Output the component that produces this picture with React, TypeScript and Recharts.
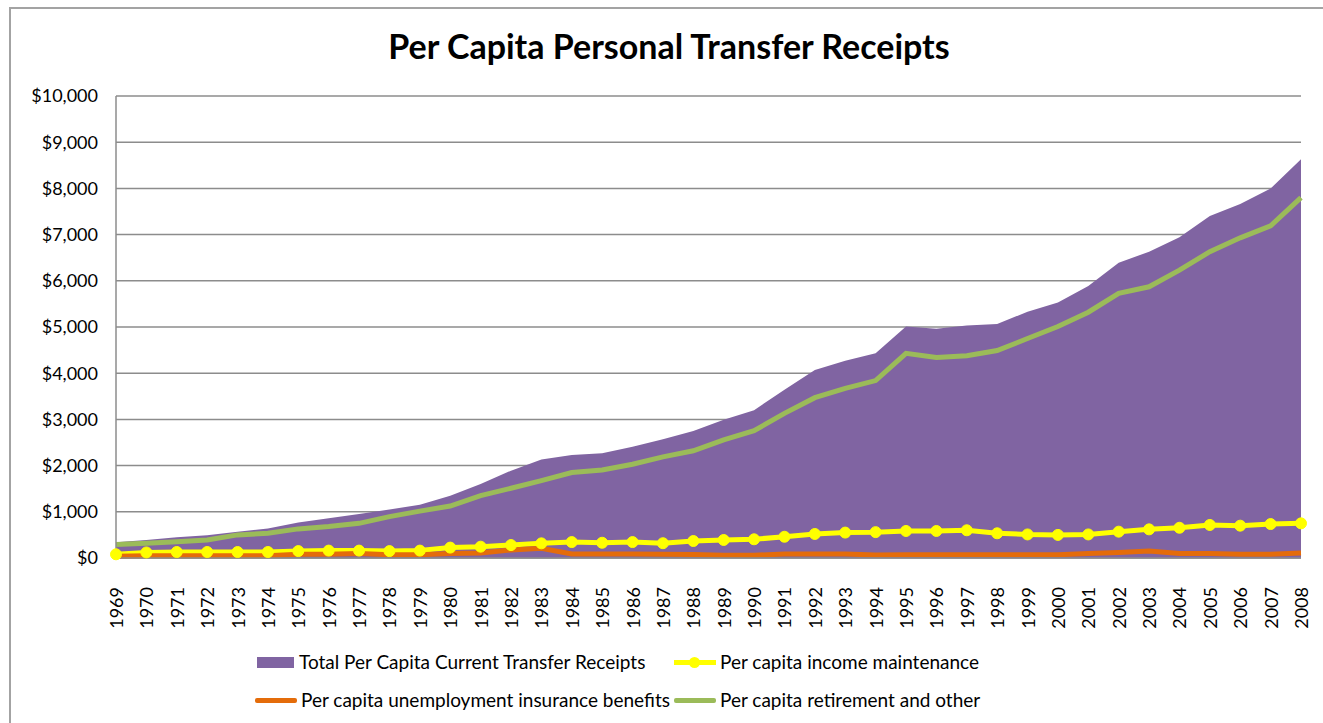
import React from "react";
import { ComposedChart, Area, Line, XAxis, YAxis, CartesianGrid } from "recharts";

// categories
const years = [
  "1969", "1970", "1971", "1972", "1973", "1974", "1975", "1976", "1977", "1978",
  "1979", "1980", "1981", "1982", "1983", "1984", "1985", "1986", "1987", "1988",
  "1989", "1990", "1991", "1992", "1993", "1994", "1995", "1996", "1997", "1998",
  "1999", "2000", "2001", "2002", "2003", "2004", "2005", "2006", "2007", "2008",
];

// series values (dollars per capita)
const totalReceipts = [
  340, 390, 450, 490, 570, 640, 770, 860, 950, 1050,
  1150, 1350, 1600, 1890, 2130, 2230, 2265, 2410, 2570, 2750,
  2990, 3200, 3640, 4070, 4270, 4430, 5010, 4960, 5030, 5065,
  5330, 5530, 5890, 6390, 6630, 6940, 7400, 7660, 8000, 8630,
];
const incomeMaintenance = [
  80, 120, 130, 130, 130, 130, 150, 160, 160, 150,
  160, 225, 245, 280, 317, 345, 330, 345, 320, 368,
  390, 405, 460, 520, 550, 560, 585, 585, 600, 535,
  510, 500, 510, 570, 620, 655, 715, 700, 735, 750,
];
const unemploymentBenefits = [
  40, 50, 50, 50, 50, 50, 80, 80, 100, 70,
  70, 100, 110, 173, 210, 87, 85, 85, 80, 75,
  60, 60, 85, 85, 85, 65, 70, 70, 70, 70,
  70, 70, 100, 120, 150, 100, 100, 80, 80, 110,
];
const retirementOther = [
  290, 320, 350, 390, 500, 535, 630, 680, 750, 895,
  1015, 1125, 1350, 1510, 1675, 1850, 1905, 2030, 2190, 2320,
  2555, 2755, 3130, 3470, 3670, 3840, 4430, 4340, 4380, 4490,
  4750, 5010, 5320, 5730, 5870, 6230, 6630, 6930, 7190, 7800,
];

// y tick labels
const yTicks = [0, 1000, 2000, 3000, 4000, 5000, 6000, 7000, 8000, 9000, 10000];

const data = years.map((year, i) => ({
  year,
  total: totalReceipts[i],
  income: incomeMaintenance[i],
  unemployment: unemploymentBenefits[i],
  retirement: retirementOther[i],
}));

const FONT = "Lato, 'Open Sans', sans-serif";
const PURPLE = "#8064A2";
const YELLOW = "#FFFF00";
const ORANGE = "#E46C0A";
const GREEN = "#9BBB59";
const GRID = "#8c8c8c";

const fmtDollar = (v: number) => "$" + v.toLocaleString("en-US");

const YearTick = (props: any) => {
  const { x, y, payload } = props;
  return (
    <g transform={`translate(${x},${y + 21})`}>
      <text
        transform="rotate(-90)"
        textAnchor="end"
        dominantBaseline="central"
        fontFamily={FONT}
        fontSize={18}
        fill="#000"
      >
        {payload.value}
      </text>
    </g>
  );
};

const legendText: React.CSSProperties = {
  position: "absolute",
  fontFamily: FONT,
  fontSize: 19,
  color: "#000",
  lineHeight: "22px",
  whiteSpace: "nowrap",
};

export default function App() {
  return (
    <div
      style={{
        position: "absolute",
        left: 9,
        top: 7,
        width: 1330,
        height: 730,
        borderLeft: "2px solid #a3a3a3",
        borderTop: "2px solid #a3a3a3",
        background: "#fff",
      }}
    >
      <div
        style={{
          position: "absolute",
          left: 0,
          width: 1316,
          top: 20,
          textAlign: "center",
          fontFamily: FONT,
          fontWeight: 700,
          fontSize: 34,
          lineHeight: "34px",
          color: "#000",
        }}
      >
        Per Capita Personal Transfer Receipts
      </div>

      <ComposedChart
        width={1312}
        height={714}
        data={data}
        margin={{ top: 87, right: 22, bottom: 95, left: 0 }}
      >
        <CartesianGrid vertical={false} stroke={GRID} strokeWidth={1.5} />
        <XAxis
          dataKey="year"
          scale="point"
          padding={{ left: 0, right: 0 }}
          interval={0}
          height={70}
          tickLine={false}
          axisLine={{ stroke: GRID, strokeWidth: 1.5 }}
          tick={<YearTick />}
        />
        <YAxis
          width={105}
          domain={[0, 10000]}
          ticks={yTicks}
          tickFormatter={fmtDollar}
          tickLine={false}
          tickSize={0}
          tickMargin={18}
          axisLine={{ stroke: GRID, strokeWidth: 1.5 }}
          tick={{ fontFamily: FONT, fontSize: 18, fill: "#000" }}
        />
        <Area
          type="linear"
          dataKey="total"
          stroke="none"
          fill={PURPLE}
          fillOpacity={1}
          isAnimationActive={false}
        />
        <Line
          type="linear"
          dataKey="income"
          stroke={YELLOW}
          strokeWidth={5}
          dot={{ r: 5.5, fill: YELLOW, stroke: YELLOW, strokeWidth: 1 }}
          activeDot={false}
          isAnimationActive={false}
        />
        <Line
          type="linear"
          dataKey="unemployment"
          stroke={ORANGE}
          strokeWidth={5}
          dot={false}
          activeDot={false}
          isAnimationActive={false}
        />
        <Line
          type="linear"
          dataKey="retirement"
          stroke={GREEN}
          strokeWidth={5}
          dot={false}
          activeDot={false}
          isAnimationActive={false}
        />
      </ComposedChart>

      {/* legend */}
      <div style={{ position: "absolute", left: 246, top: 648, width: 37, height: 11, background: PURPLE }} />
      <div style={{ ...legendText, left: 288, top: 642 }}>Total Per Capita Current Transfer Receipts</div>

      <div style={{ position: "absolute", left: 663, top: 651, width: 42, height: 5, background: YELLOW }} />
      <div style={{ position: "absolute", left: 678, top: 648, width: 11, height: 11, borderRadius: 6, background: YELLOW }} />
      <div style={{ ...legendText, left: 709, top: 642 }}>Per capita income maintenance</div>

      <div style={{ position: "absolute", left: 244, top: 689, width: 42, height: 5, background: ORANGE, borderRadius: 2 }} />
      <div style={{ ...legendText, left: 290, top: 680 }}>Per capita unemployment insurance benefits</div>

      <div style={{ position: "absolute", left: 663, top: 689, width: 42, height: 5, background: GREEN, borderRadius: 2 }} />
      <div style={{ ...legendText, left: 709, top: 680 }}>Per capita retirement and other</div>
    </div>
  );
}
